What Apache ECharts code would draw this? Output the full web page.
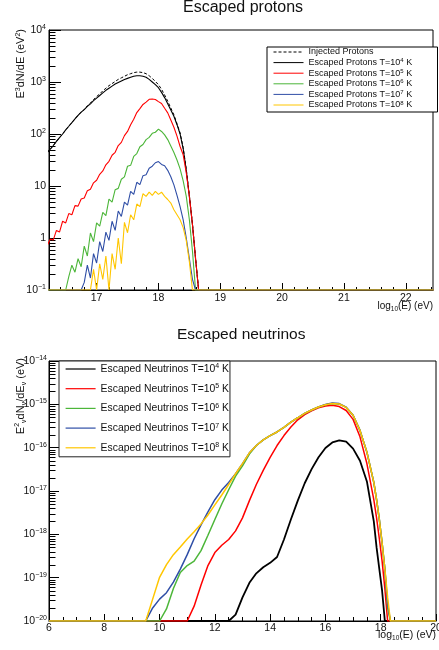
<!DOCTYPE html>
<html>
<head>
<meta charset="utf-8">
<title>Escaped protons / Escaped neutrinos</title>
<script src="https://cdn.jsdelivr.net/npm/echarts@6/dist/echarts.min.js"></script>
<style>
  html, body { margin: 0; padding: 0; background: #fff; }
  #chart { width: 439px; height: 650px; }
</style>
</head>
<body>
<div id="chart"></div>
<script>
// ---- top panel: E^3 dN/dE of protons, x = log10(E/eV) ----
// last point only carries the floor value out to the end of the axis
const protonE = [16.20, 16.25, 16.30, 16.35, 16.40, 16.45, 16.50, 16.55, 16.60, 16.65,
  16.70, 16.75, 16.80, 16.85, 16.90, 16.95, 17.00, 17.05, 17.10, 17.15,
  17.20, 17.25, 17.30, 17.35, 17.40, 17.45, 17.50, 17.55, 17.60, 17.65,
  17.70, 17.75, 17.80, 17.85, 17.90, 17.95, 18.00, 18.05, 18.10, 18.15,
  18.20, 18.25, 18.30, 18.35, 18.40, 18.45, 18.50, 18.55, 18.60, 18.65,
  18.70, 22.45];
const injected = [44, 51, 60, 72, 85, 100, 120, 141, 166, 195,
  229, 263, 295, 347, 398, 457, 525, 589, 676, 759,
  851, 933, 1023, 1122, 1202, 1288, 1380, 1445, 1514, 1549,
  1549, 1514, 1445, 1318, 1175, 1023, 891, 724, 562, 427,
  316, 234, 158, 105, 55, 21, 6.6, 1.9, 0.42, 0.1,
  0.1, 0.1];
const protonT4 = [44, 51, 60, 72, 85, 100, 120, 141, 166, 195,
  229, 263, 295, 339, 380, 437, 490, 550, 617, 692,
  759, 832, 912, 977, 1047, 1122, 1175, 1230, 1288, 1318,
  1318, 1288, 1230, 1122, 1000, 891, 776, 631, 501, 380,
  288, 219, 151, 100, 52, 20, 6.3, 1.8, 0.4, 0.1,
  0.1, 0.1];
const protonT5 = [0.71, 0.95, 0.92, 1.4, 1.3, 2.1, 1.95, 2.95, 2.8, 4.2,
  4.1, 5.6, 5.9, 8.1, 8.7, 11.5, 12.9, 16.8, 19.5, 25.5,
  29.8, 39, 44.5, 60, 69, 93, 112, 150, 192, 258,
  308, 370, 410, 465, 472, 462, 420, 385, 312, 255,
  186, 135, 91, 57.5, 39.8, 17.8, 6.3, 1.8, 0.4, 0.1,
  0.1, 0.1];
const protonT6 = [0.1, 0.1, 0.1, 0.1, 0.1, 0.1, 0.1, 0.18, 0.3, 0.22,
  0.4, 0.28, 0.7, 0.45, 1.25, 0.85, 1.95, 1.7, 3.1, 2.7,
  5.6, 4.9, 8.5, 9.0, 13.5, 15.0, 24, 25, 37, 42,
  57, 63, 78, 86, 103, 108, 124, 112, 96, 78,
  59, 44, 31.6, 21.4, 12.6, 6.3, 2.24, 0.56, 0.1, 0.1,
  0.1, 0.1];
const protonT7 = [0.1, 0.1, 0.1, 0.1, 0.1, 0.1, 0.1, 0.1, 0.1, 0.1,
  0.1, 0.1, 0.14, 0.3, 0.17, 0.5, 0.33, 0.85, 0.55, 1.3,
  0.9, 2.1, 1.4, 3.3, 2.6, 4.9, 4.3, 7.9, 6.9, 11.8,
  10.6, 15.8, 16.5, 22, 24, 28, 29.5, 26, 24.5, 20,
  15.1, 10.5, 6.6, 4.0, 2.24, 1.0, 0.4, 0.16, 0.1, 0.1,
  0.1, 0.1];
const protonT8 = [0.1, 0.1, 0.1, 0.1, 0.1, 0.1, 0.1, 0.1, 0.1, 0.1,
  0.1, 0.1, 0.1, 0.1, 0.1, 0.25, 0.1, 0.32, 0.16, 0.45,
  0.1, 0.5, 0.25, 1.0, 0.32, 2.0, 1.26, 2.8, 2.24, 4.5,
  4.0, 7.1, 6.3, 7.6, 6.6, 7.9, 6.9, 7.6, 6.3, 5.5,
  4.7, 3.5, 2.8, 2.24, 1.58, 0.89, 0.35, 0.1, 0.1, 0.1,
  0.1, 0.1];

// ---- bottom panel: E^2 dN/dE of neutrinos ----
const nuE = [6, 9.5, 9.75, 10, 10.25, 10.5, 10.75, 11, 11.25, 11.5,
  11.75, 12, 12.25, 12.5, 12.75, 13, 13.25, 13.5, 13.75, 14,
  14.25, 14.5, 14.75, 15, 15.25, 15.5, 15.75, 16, 16.25, 16.5,
  16.75, 17, 17.25, 17.5, 17.75, 17.85, 17.95, 18.05, 18.15, 18.25,
  18.35, 20];
const nuT4 = [1e-20, 1e-20, 1e-20, 1e-20, 1e-20, 1e-20, 1e-20, 1e-20, 1e-20, 1e-20,
  1e-20, 1e-20, 1e-20, 1e-20, 1.4e-20, 3.5e-20, 7.6e-20, 1.26e-19, 1.74e-19, 2.2e-19,
  3.0e-19, 7.6e-19, 2.2e-18, 6.0e-18, 1.51e-17, 3.2e-17, 6.0e-17, 9.8e-17, 1.32e-16, 1.48e-16,
  1.38e-16, 9.5e-17, 5.0e-17, 1.66e-17, 2.0e-18, 5.0e-19, 1.58e-19, 5.0e-20, 1e-20, 1e-20,
  1e-20, 1e-20];
const nuT5 = [1e-20, 1e-20, 1e-20, 1e-20, 1e-20, 1e-20, 1e-20, 1e-20, 2.2e-20, 6.8e-20,
  1.9e-19, 3.8e-19, 5.6e-19, 7.6e-19, 1.2e-18, 2.4e-18, 6.0e-18, 1.41e-17, 3.0e-17, 6.0e-17,
  1.12e-16, 1.9e-16, 3.0e-16, 4.4e-16, 5.8e-16, 7.1e-16, 8.3e-16, 9.1e-16, 9.5e-16, 8.9e-16,
  7.2e-16, 4.5e-16, 1.78e-16, 4.3e-17, 6.3e-18, 2.4e-18, 7.9e-19, 2.4e-19, 5.6e-20, 1e-20,
  1e-20, 1e-20];
const nuT6 = [1e-20, 1e-20, 1e-20, 1e-20, 1.9e-20, 5.6e-20, 1.32e-19, 1.9e-19, 2.4e-19, 4.2e-19,
  9.5e-19, 2.2e-18, 5.0e-18, 1.07e-17, 2.2e-17, 3.8e-17, 7.1e-17, 1.12e-16, 1.51e-16, 1.9e-16,
  2.3e-16, 2.95e-16, 3.9e-16, 4.9e-16, 6.2e-16, 7.4e-16, 8.7e-16, 9.8e-16, 1.04e-15, 1.01e-15,
  8.5e-16, 5.6e-16, 2.5e-16, 7.9e-17, 1.58e-17, 6.3e-18, 2.2e-18, 6.3e-19, 1.58e-19, 2.0e-20,
  1e-20, 1e-20];
const nuT7 = [1e-20, 1e-20, 2.0e-20, 3.2e-20, 4.5e-20, 7.9e-20, 1.58e-19, 3.4e-19, 7.9e-19, 1.66e-18,
  3.3e-18, 6.3e-18, 1.05e-17, 1.58e-17, 2.5e-17, 4.3e-17, 7.6e-17, 1.12e-16, 1.51e-16, 1.9e-16,
  2.3e-16, 2.95e-16, 3.9e-16, 4.9e-16, 6.2e-16, 7.4e-16, 8.7e-16, 9.9e-16, 1.07e-15, 1.04e-15,
  8.6e-16, 5.6e-16, 2.5e-16, 7.9e-17, 1.58e-17, 6.3e-18, 2.2e-18, 6.3e-19, 1.58e-19, 2.5e-20,
  1e-20, 1e-20];
const nuT8 = [1e-20, 1e-20, 3.2e-20, 1.02e-19, 2.0e-19, 3.4e-19, 5.1e-19, 7.8e-19, 1.15e-18, 1.74e-18,
  2.8e-18, 4.8e-18, 8.1e-18, 1.41e-17, 2.5e-17, 4.3e-17, 7.6e-17, 1.12e-16, 1.51e-16, 1.9e-16,
  2.3e-16, 2.95e-16, 3.9e-16, 4.9e-16, 6.2e-16, 7.4e-16, 8.7e-16, 9.8e-16, 1.05e-15, 1.02e-15,
  8.5e-16, 5.6e-16, 2.5e-16, 7.9e-17, 1.58e-17, 6.3e-18, 2.2e-18, 6.3e-19, 1.58e-19, 3.5e-20,
  1e-20, 1e-20];

const protonNames = ['Injected Protons', 'Escaped Protons T=10^4 K', 'Escaped Protons T=10^5 K',
  'Escaped Protons T=10^6 K', 'Escaped Protons T=10^7 K', 'Escaped Protons T=10^8 K'];
const nuNames = ['Escaped Neutrinos T=10^4 K', 'Escaped Neutrinos T=10^5 K', 'Escaped Neutrinos T=10^6 K',
  'Escaped Neutrinos T=10^7 K', 'Escaped Neutrinos T=10^8 K'];

// axis ranges
const protonXMin = 16.23, protonXMax = 22.44, protonYMin = 0.1, protonYMax = 1e4;
const nuXMin = 6, nuXMax = 20, nuYMin = 1e-20, nuYMax = 1e-14;

const font = 'Liberation Sans, Arial, sans-serif';
const ink = '#111';
const colT = ['#000000', '#ff0000', '#4cb639', '#2f4ea6', '#ffc600'];

// minor tick positions (ROOT style: 2..9 per decade, 0.2 steps on the top x axis)
const protonYMinor = [], nuYMinor = [], protonXMinor = [];
for (let k = -1; k <= 3; k++) for (let m = 2; m <= 9; m++) protonYMinor.push(m * Math.pow(10, k));
for (let k = -20; k <= -15; k++) for (let m = 2; m <= 9; m++) nuYMinor.push(m * Math.pow(10, k));
for (let k = 82; k <= 112; k++) if (k % 5) protonXMinor.push(k / 5);

const supRich = {
  b: { fontSize: 10.5, fontFamily: font, color: ink, lineHeight: 13 },
  s: { fontSize: 7, fontFamily: font, color: ink, verticalAlign: 'top', lineHeight: 8 }
};
function powLabel(v) {
  const n = Math.round(Math.log10(v));
  if (n === 0) return '{b|1}';
  if (n === 1) return '{b|10}';
  return '{b|10}{s|' + (n < 0 ? '\u2212' + (-n) : n) + '}';
}
function legendLabel(name) {
  return name.replace(/\^(\d+)/, '{s|$1}');
}

function lineSeries(name, xs, ys, color, grid, width, dashed) {
  return {
    name: name, type: 'line', xAxisIndex: grid, yAxisIndex: grid,
    data: xs.map((x, i) => [x, ys[i]]),
    showSymbol: false, symbol: 'none',
    lineStyle: { color: color, width: width, type: dashed ? [3, 2] : 'solid' },
    itemStyle: { color: color },
    emphasis: { disabled: true }
  };
}

function tickSeries(grid, values, axis, anchor, len) {
  return {
    type: 'custom', xAxisIndex: grid, yAxisIndex: grid, silent: true, clip: false, z: 3,
    data: values.map(v => axis === 'y' ? [anchor, v] : [v, anchor]),
    renderItem: function (params, api) {
      const p = api.coord([api.value(0), api.value(1)]);
      if (axis === 'y') {
        const y = Math.round(p[1]) + 0.5, x = Math.round(p[0]) + 0.5;
        return { type: 'line', shape: { x1: x, y1: y, x2: x + len, y2: y }, style: { stroke: '#000', lineWidth: 1 } };
      }
      const x = Math.round(p[0]) + 0.5, y = Math.round(p[1]) + 0.5;
      return { type: 'line', shape: { x1: x, y1: y, x2: x, y2: y - len }, style: { stroke: '#000', lineWidth: 1 } };
    }
  };
}

const axisCommon = {
  axisLine: { show: true, onZero: false, lineStyle: { color: '#000', width: 1 } },
  splitLine: { show: false }
};

const chart = echarts.init(document.getElementById('chart'), null, { renderer: 'canvas' });
chart.setOption({
  animation: false,
  backgroundColor: '#fff',
  textStyle: { fontFamily: font, color: ink },
  title: [
    { text: 'Escaped protons', left: 183, top: 0, padding: 0,
      textStyle: { fontSize: 16, fontWeight: 'normal', color: ink, fontFamily: font } },
    { text: 'Escaped neutrinos', left: 177, top: 327, padding: 0,
      textStyle: { fontSize: 15.5, fontWeight: 'normal', color: ink, fontFamily: font } }
  ],
  grid: [
    { left: 49, top: 30, width: 384, height: 260, show: true, borderColor: '#000', borderWidth: 1,
      backgroundColor: 'transparent', containLabel: false, outerBoundsMode: 'none' },
    { left: 49, top: 361, width: 387, height: 260, show: true, borderColor: '#000', borderWidth: 1,
      backgroundColor: 'transparent', containLabel: false, outerBoundsMode: 'none' }
  ],
  xAxis: [
    Object.assign({}, axisCommon, {
      type: 'value', gridIndex: 0, min: protonXMin, max: protonXMax, splitNumber: 6,
      axisTick: { inside: true, length: 7, lineStyle: { color: '#000' } },
      axisLabel: { showMinLabel: false, showMaxLabel: false, margin: 3, fontSize: 10.5, color: ink, fontFamily: font }
    }),
    Object.assign({}, axisCommon, {
      type: 'value', gridIndex: 1, min: nuXMin, max: nuXMax, interval: 2,
      axisTick: { inside: true, length: 7, lineStyle: { color: '#000' } },
      minorTick: { show: true, splitNumber: 4, length: 4, lineStyle: { color: '#000' } },
      axisLabel: { margin: 2, fontSize: 10.5, color: ink, fontFamily: font }
    })
  ],
  yAxis: [
    Object.assign({}, axisCommon, {
      type: 'log', logBase: 10, gridIndex: 0, min: protonYMin, max: protonYMax, splitNumber: 5,
      axisTick: { inside: true, length: 12, lineStyle: { color: '#000' } },
      axisLabel: { margin: 3, formatter: powLabel, rich: supRich }
    }),
    Object.assign({}, axisCommon, {
      type: 'log', logBase: 10, gridIndex: 1, min: nuYMin, max: nuYMax, splitNumber: 6,
      axisTick: { inside: true, length: 10, lineStyle: { color: '#000' } },
      axisLabel: { margin: 2, formatter: powLabel, rich: supRich }
    })
  ],
  legend: [
    { data: protonNames, orient: 'vertical', left: 267, top: 47, selectedMode: false,
      padding: [0, 4, 2, 6], itemGap: 0.6, itemWidth: 30, itemHeight: 10, itemTextGap: 6,
      borderColor: '#000', borderWidth: 1, backgroundColor: '#fff',
      itemStyle: { opacity: 0, borderWidth: 0 },
      lineStyle: { width: 1 },
      formatter: legendLabel,
      textStyle: { fontSize: 9, lineHeight: 10, color: ink, fontFamily: font, width: 125,
        rich: { s: { fontSize: 6, verticalAlign: 'top', lineHeight: 6, fontFamily: font, color: ink } } } },
    { data: nuNames, orient: 'vertical', left: 59, top: 361, selectedMode: false,
      padding: [2, 1, 3, 6], itemGap: 7.7, itemWidth: 30, itemHeight: 12, itemTextGap: 5,
      borderColor: '#222', borderWidth: 1, backgroundColor: '#fff',
      itemStyle: { opacity: 0, borderWidth: 0 },
      lineStyle: { width: 1.2 },
      formatter: legendLabel,
      textStyle: { fontSize: 10.4, lineHeight: 12, color: ink, fontFamily: font, width: 127,
        rich: { s: { fontSize: 7, verticalAlign: 'top', lineHeight: 7, fontFamily: font, color: ink } } } }
  ],
  graphic: [
    { type: 'text', x: 21, y: 29, rotation: Math.PI / 2, silent: true,
      style: { text: 'E{s|3}dN/dE (eV{s|2})', fill: ink, fontSize: 11, fontFamily: font, lineHeight: 13,
        align: 'right', verticalAlign: 'middle',
        rich: { s: { fontSize: 7, verticalAlign: 'top', lineHeight: 7, fontFamily: font, fill: ink } } } },
    { type: 'text', x: 21, y: 358, rotation: Math.PI / 2, silent: true,
      style: { text: 'E{s|2}{u|\u03bd}dN{u|\u03bd}/dE{u|\u03bd} (eV)', fill: ink, fontSize: 11, fontFamily: font, lineHeight: 14,
        align: 'right', verticalAlign: 'middle',
        rich: { s: { fontSize: 7, verticalAlign: 'top', lineHeight: 7, fontFamily: font, fill: ink },
                u: { fontSize: 7, verticalAlign: 'bottom', lineHeight: 7, fontFamily: font, fill: ink } } } },
    { type: 'text', x: 433, y: 306, silent: true,
      style: { text: 'log{u|10}(E) (eV)', fill: ink, fontSize: 10, fontFamily: font, lineHeight: 13,
        align: 'right', verticalAlign: 'middle',
        rich: { u: { fontSize: 6.5, verticalAlign: 'bottom', lineHeight: 6, fontFamily: font, fill: ink } } } },
    { type: 'text', x: 436, y: 635, silent: true,
      style: { text: 'log{u|10}(E) (eV)', fill: ink, fontSize: 10.5, fontFamily: font, lineHeight: 13,
        align: 'right', verticalAlign: 'middle',
        rich: { u: { fontSize: 6.5, verticalAlign: 'bottom', lineHeight: 6, fontFamily: font, fill: ink } } } }
  ],
  series: [
    lineSeries(protonNames[0], protonE, injected, '#000', 0, 1, true),
    lineSeries(protonNames[1], protonE, protonT4, colT[0], 0, 1.1),
    lineSeries(protonNames[2], protonE, protonT5, colT[1], 0, 1.1),
    lineSeries(protonNames[3], protonE, protonT6, colT[2], 0, 1.1),
    lineSeries(protonNames[4], protonE, protonT7, colT[3], 0, 1.1),
    lineSeries(protonNames[5], protonE, protonT8, colT[4], 0, 1.1),
    lineSeries(nuNames[0], nuE, nuT4, colT[0], 1, 1.8),
    lineSeries(nuNames[1], nuE, nuT5, colT[1], 1, 1.5),
    lineSeries(nuNames[2], nuE, nuT6, colT[2], 1, 1.5),
    lineSeries(nuNames[3], nuE, nuT7, colT[3], 1, 1.5),
    lineSeries(nuNames[4], nuE, nuT8, colT[4], 1, 1.5),
    tickSeries(0, protonYMinor, 'y', protonXMin, 6),
    tickSeries(0, protonXMinor, 'x', protonYMin, 3.5),
    tickSeries(1, nuYMinor, 'y', nuXMin, 6)
  ]
});
</script>
</body>
</html>
